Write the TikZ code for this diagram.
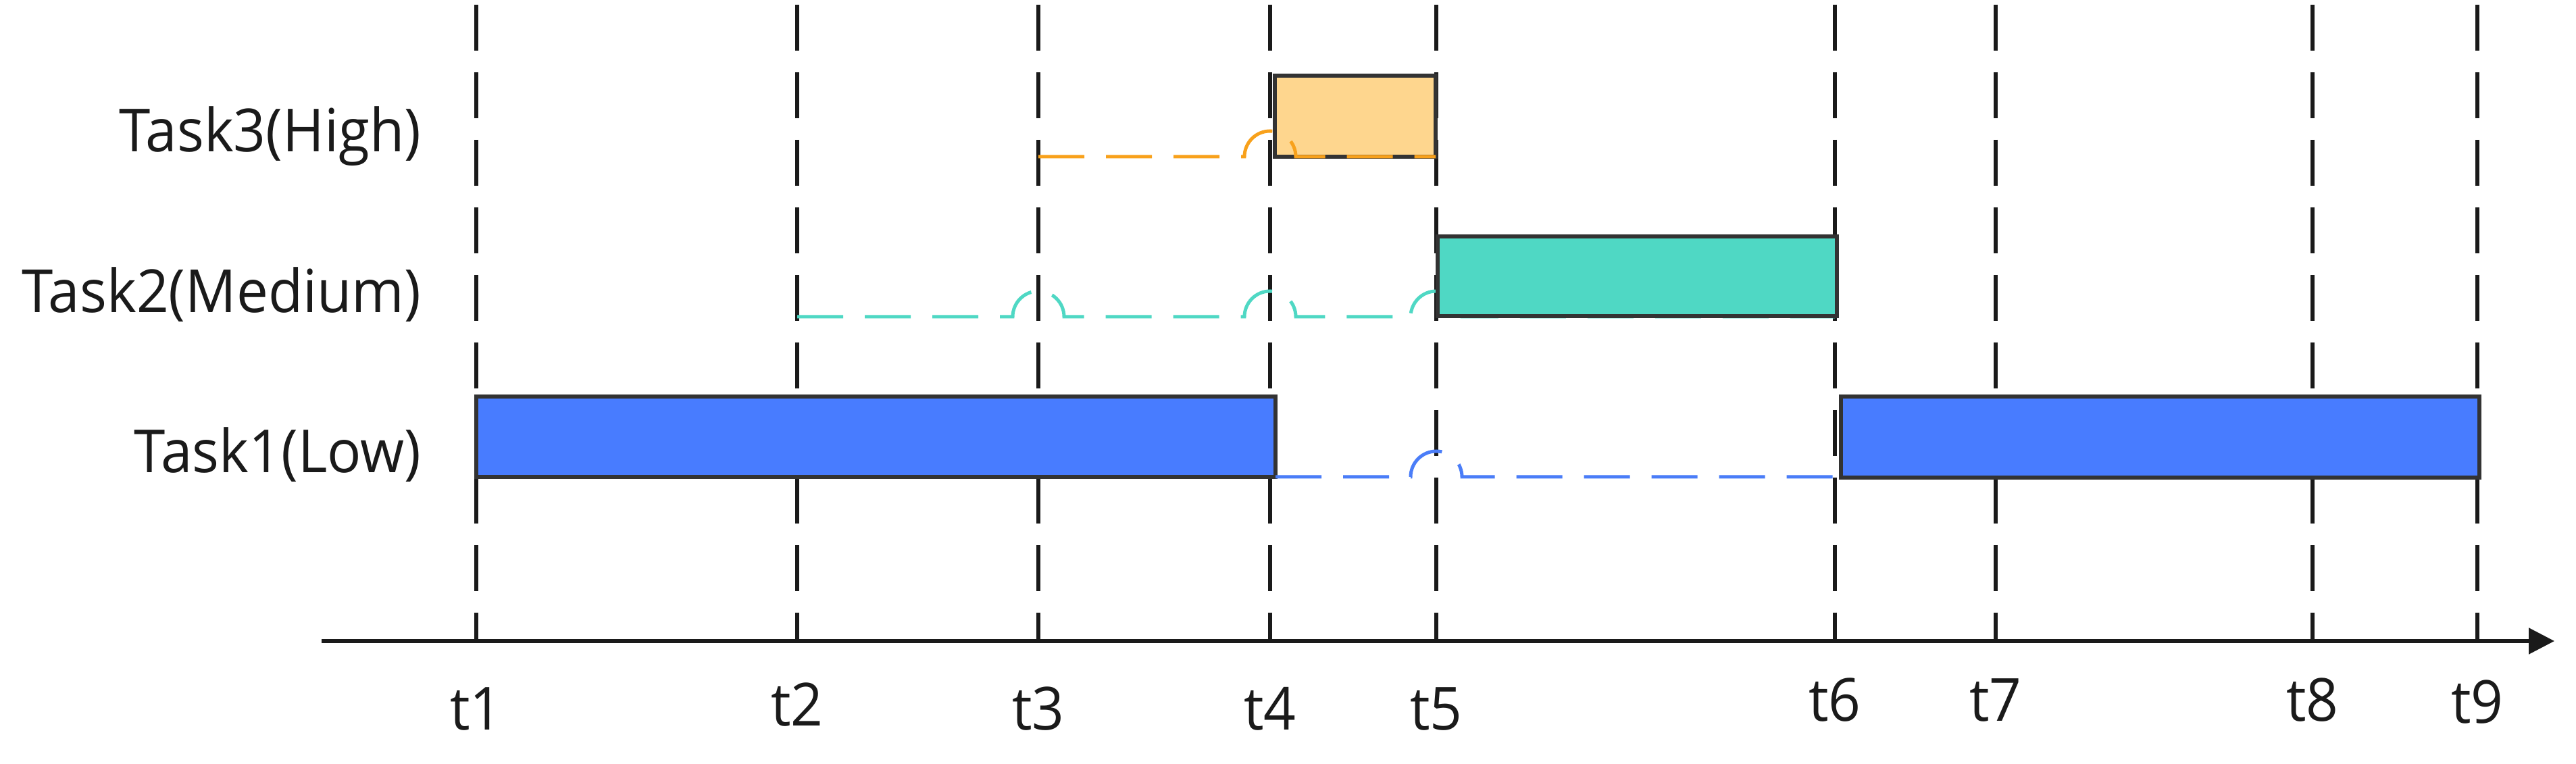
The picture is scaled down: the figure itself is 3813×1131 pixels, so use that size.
\documentclass[tikz,border=0pt]{standalone}
\usepackage{fontspec}
\setmainfont{Open Sans}[FakeStretch=0.95]
\usetikzlibrary{arrows.meta}
\definecolor{inkc}{HTML}{1A1A1A}
\definecolor{borderc}{HTML}{333333}
\definecolor{orangefill}{HTML}{FED68E}
\definecolor{orangeline}{HTML}{F8A11B}
\definecolor{tealc}{HTML}{4FD8C4}
\definecolor{bluefill}{HTML}{487CFF}
\definecolor{blueline}{HTML}{4A7DF8}
\tikzset{
  vline/.style={draw=inkc, line width=1.45pt, dash pattern=on 17pt off 8pt},
  waitline/.style={line width=1.25pt, dash pattern=on 17pt off 8pt},
  taskbox/.style={draw=borderc, line width=1.3pt, inner sep=0pt, outer sep=0pt},
  tasklabel/.style={anchor=base east, inner sep=0pt, text=inkc, font=\fontsize{22pt}{26pt}\selectfont},
  tlabel/.style={anchor=base, inner sep=0pt, text=inkc, font=\fontsize{22pt}{26pt}\selectfont},
  axisline/.style={draw=inkc, line width=1.4pt, -{Triangle[length=9.5pt, width=9.5pt]}}
}
\begin{document}
\begin{tikzpicture}[x=0.25pt, y=-0.25pt]
\useasboundingbox (0,0) rectangle (3813,1131);
\fill[white] (0,0) rectangle (3813,1131);

% time coordinates and labels
\foreach \n/\x/\b in {1/705/1081, 2/1180/1075, 3/1537/1081, 4/1880/1081, 5/2126/1081, 6/2716/1068, 7/2954/1068, 8/3423/1068, 9/3667/1071}{
  \coordinate (top\n) at (\x,7);
  \coordinate (bot\n) at (\x,946);
  \node[tlabel] (t\n) at (\x,\b) {t\n};
}
\foreach \n in {1,...,9}{
  \draw[vline] (top\n) -- (bot\n);
}

% axis
\coordinate (axs) at (476,949);
\coordinate (axe) at (3781,949);
\draw[axisline] (axs) -- (axe);

% task labels
\node[tasklabel] (l3) at (624,225) {Task3(High)};
\node[tasklabel] (l2) at (624,463) {Task2(Medium)};
\node[tasklabel] (l1) at (624,700) {Task1(Low)};

% Task2 waiting line (under boxes)
\coordinate (w2s) at (1180,469);
\coordinate (w2e) at (2716,469);
\draw[waitline, tealc] (w2s) -- (1499,469) arc[start angle=180, end angle=360, radius=38]
  -- (1842,469) arc[start angle=180, end angle=360, radius=38]
  -- (2088,469) arc[start angle=180, end angle=360, radius=38] -- (w2e);

% boxes
\node[taskbox, fill=orangefill, minimum width=59.5pt, minimum height=30pt] (b3) at (2006,172) {};
\node[taskbox, fill=tealc, minimum width=147.75pt, minimum height=29.5pt] (b2) at (2423.5,409) {};
\node[taskbox, fill=bluefill, minimum width=295.75pt, minimum height=29.75pt] (b1a) at (1296.5,646.5) {};
\node[taskbox, fill=bluefill, minimum width=236.25pt, minimum height=30pt] (b1b) at (3197.5,647) {};

% Task3 waiting line
\coordinate (w3s) at (1537,232);
\draw[waitline, orangeline] (w3s) -- (1842,232) arc[start angle=180, end angle=360, radius=38] -- (b3.south east);

% Task1 waiting line
\coordinate (w1e) at (2716,706);
\draw[waitline, blueline] (b1a.south east) -- (2088,706) arc[start angle=180, end angle=360, radius=38] -- (w1e);
\end{tikzpicture}
\end{document}
